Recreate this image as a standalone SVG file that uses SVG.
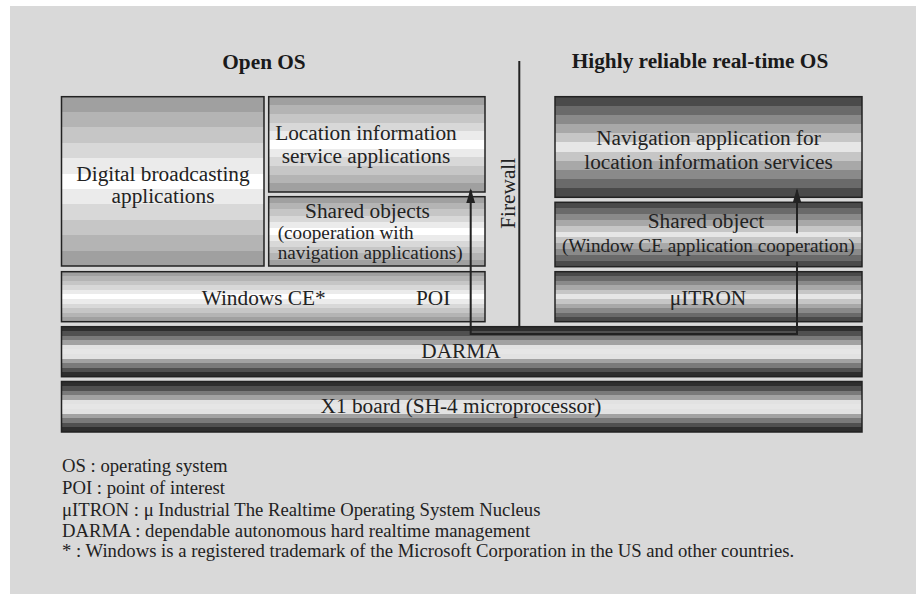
<svg xmlns="http://www.w3.org/2000/svg" width="916" height="594" viewBox="0 0 916 594">
<defs>
<linearGradient id="gLight" x1="0" y1="0" x2="0" y2="1">
<stop offset="0" stop-color="#a0a0a0"/><stop offset="0.0909" stop-color="#a0a0a0"/>
<stop offset="0.0909" stop-color="#b4b4b4"/><stop offset="0.1818" stop-color="#b4b4b4"/>
<stop offset="0.1818" stop-color="#c6c6c6"/><stop offset="0.2727" stop-color="#c6c6c6"/>
<stop offset="0.2727" stop-color="#d8d8d8"/><stop offset="0.3636" stop-color="#d8d8d8"/>
<stop offset="0.3636" stop-color="#ebebeb"/><stop offset="0.4545" stop-color="#ebebeb"/>
<stop offset="0.4545" stop-color="#ffffff"/><stop offset="0.5455" stop-color="#ffffff"/>
<stop offset="0.5455" stop-color="#ebebeb"/><stop offset="0.6364" stop-color="#ebebeb"/>
<stop offset="0.6364" stop-color="#d8d8d8"/><stop offset="0.7273" stop-color="#d8d8d8"/>
<stop offset="0.7273" stop-color="#c6c6c6"/><stop offset="0.8182" stop-color="#c6c6c6"/>
<stop offset="0.8182" stop-color="#b4b4b4"/><stop offset="0.9091" stop-color="#b4b4b4"/>
<stop offset="0.9091" stop-color="#a0a0a0"/><stop offset="1" stop-color="#a0a0a0"/>
</linearGradient>
<linearGradient id="gMid" x1="0" y1="0" x2="0" y2="1">
<stop offset="0" stop-color="#4a4a4a"/><stop offset="0.0909" stop-color="#4a4a4a"/>
<stop offset="0.0909" stop-color="#6a6a6a"/><stop offset="0.1818" stop-color="#6a6a6a"/>
<stop offset="0.1818" stop-color="#8a8a8a"/><stop offset="0.2727" stop-color="#8a8a8a"/>
<stop offset="0.2727" stop-color="#a8a8a8"/><stop offset="0.3636" stop-color="#a8a8a8"/>
<stop offset="0.3636" stop-color="#c6c6c6"/><stop offset="0.4545" stop-color="#c6c6c6"/>
<stop offset="0.4545" stop-color="#e6e6e6"/><stop offset="0.5455" stop-color="#e6e6e6"/>
<stop offset="0.5455" stop-color="#c6c6c6"/><stop offset="0.6364" stop-color="#c6c6c6"/>
<stop offset="0.6364" stop-color="#a8a8a8"/><stop offset="0.7273" stop-color="#a8a8a8"/>
<stop offset="0.7273" stop-color="#8a8a8a"/><stop offset="0.8182" stop-color="#8a8a8a"/>
<stop offset="0.8182" stop-color="#6a6a6a"/><stop offset="0.9091" stop-color="#6a6a6a"/>
<stop offset="0.9091" stop-color="#4a4a4a"/><stop offset="1" stop-color="#4a4a4a"/>
</linearGradient>
<linearGradient id="gDark" x1="0" y1="0" x2="0" y2="1">
<stop offset="0" stop-color="#2e2e2e"/><stop offset="0.0909" stop-color="#2e2e2e"/>
<stop offset="0.0909" stop-color="#505050"/><stop offset="0.1818" stop-color="#505050"/>
<stop offset="0.1818" stop-color="#7a7a7a"/><stop offset="0.2727" stop-color="#7a7a7a"/>
<stop offset="0.2727" stop-color="#a2a2a2"/><stop offset="0.3636" stop-color="#a2a2a2"/>
<stop offset="0.3636" stop-color="#e2e2e2"/><stop offset="0.4545" stop-color="#e2e2e2"/>
<stop offset="0.4545" stop-color="#e6e6e6"/><stop offset="0.5455" stop-color="#e6e6e6"/>
<stop offset="0.5455" stop-color="#e2e2e2"/><stop offset="0.6364" stop-color="#e2e2e2"/>
<stop offset="0.6364" stop-color="#a2a2a2"/><stop offset="0.7273" stop-color="#a2a2a2"/>
<stop offset="0.7273" stop-color="#7a7a7a"/><stop offset="0.8182" stop-color="#7a7a7a"/>
<stop offset="0.8182" stop-color="#505050"/><stop offset="0.9091" stop-color="#505050"/>
<stop offset="0.9091" stop-color="#2e2e2e"/><stop offset="1" stop-color="#2e2e2e"/>
</linearGradient>
<marker id="arrow" markerUnits="userSpaceOnUse" markerWidth="16" markerHeight="10" refX="13" refY="4.5" orient="auto">
<path d="M0,0 L15,4.5 L0,9 z" fill="#222"/>
</marker>
</defs>
<style>
.box{stroke:#222;stroke-width:1.5}
.light{fill:url(#gLight)}
.mid{fill:url(#gMid)}
.dark{fill:url(#gDark)}
.t{font-family:"Liberation Serif","Times New Roman",serif;font-size:21.3px;text-anchor:middle;fill:#222}
.s{font-family:"Liberation Serif","Times New Roman",serif;font-size:19.2px;fill:#222}
.h{font-family:"Liberation Serif","Times New Roman",serif;font-size:21.3px;font-weight:bold;text-anchor:middle;fill:#1a1a1a}
.leg{font-family:"Liberation Serif","Times New Roman",serif;font-size:18.7px;fill:#222}
.conn{fill:none;stroke:#222;stroke-width:2}
</style>
<rect x="0" y="0" width="916" height="594" fill="#ffffff"/>
<rect x="10" y="6" width="906" height="588" fill="#d9d9d9"/>

<text class="h" x="264" y="69">Open OS</text>
<text class="h" x="700" y="68">Highly reliable real-time OS</text>

<g id="digital">
<rect class="box light" x="61.5" y="96.7" width="202.5" height="169.3"/>
<text class="t" x="163" y="181">Digital broadcasting</text>
<text class="t" x="163" y="203">applications</text>
</g>
<g id="location">
<rect class="box light" x="268.7" y="96.7" width="216.3" height="95.3"/>
<text class="t" x="366" y="140">Location information</text>
<text class="t" x="366" y="162.7">service applications</text>
</g>
<g id="shared-left">
<rect class="box light" x="268.7" y="196.7" width="216.3" height="69.3"/>
<text class="t" x="367.5" y="218">Shared objects</text>
<text class="s" x="277.7" y="239">(cooperation with</text>
<text class="s" x="277.7" y="258.5">navigation applications)</text>
</g>
<g id="wince">
<rect class="box light" x="61.5" y="271.7" width="423.5" height="50"/>
<text class="t" x="201.7" y="305" style="text-anchor:start">Windows CE*</text>
<text class="t" x="416" y="305" style="text-anchor:start">POI</text>
</g>
<g id="navigation">
<rect class="box mid" x="555" y="96.7" width="307" height="100.6"/>
<text class="t" x="708.5" y="145">Navigation application for</text>
<text class="t" x="708.5" y="169">location information services</text>
</g>
<g id="shared-right">
<rect class="box mid" x="555" y="202.3" width="307" height="64.4"/>
<text class="t" x="706" y="227.7">Shared object</text>
<text class="s" x="708.3" y="251.7" style="text-anchor:middle">(Window CE application cooperation)</text>
</g>
<g id="uitron">
<rect class="box mid" x="555" y="271.7" width="307" height="50"/>
<text class="t" x="708" y="305">μITRON</text>
</g>
<g id="darma">
<rect class="box dark" x="61.5" y="326.7" width="800.5" height="50"/>
<text class="t" x="461" y="358.3">DARMA</text>
</g>
<g id="x1">
<rect class="box dark" x="61.5" y="381.5" width="800.5" height="50.5"/>
<text class="t" x="461" y="413.3">X1 board (SH-4 microprocessor)</text>
</g>

<g id="firewall">
<line x1="519.3" y1="61" x2="519.3" y2="326" stroke="#222" stroke-width="2"/>
<text class="t" transform="translate(515,193.3) rotate(-90)" x="0" y="0">Firewall</text>
</g>

<g id="connectors">
<path class="conn" d="M797,261.7 V334 H470.7 V190.3" marker-end="url(#arrow)"/>
<path class="conn" d="M797,233.3 V190.3" marker-end="url(#arrow)"/>
</g>

<g id="legend">
<text class="leg" x="62" y="472.3">OS : operating system</text>
<text class="leg" x="62" y="494">POI : point of interest</text>
<text class="leg" x="62" y="515.7">μITRON : μ Industrial The Realtime Operating System Nucleus</text>
<text class="leg" x="62" y="537.3">DARMA : dependable autonomous hard realtime management</text>
<text class="leg" x="62" y="557">* : Windows is a registered trademark of the Microsoft Corporation in the US and other countries.</text>
</g>
</svg>
